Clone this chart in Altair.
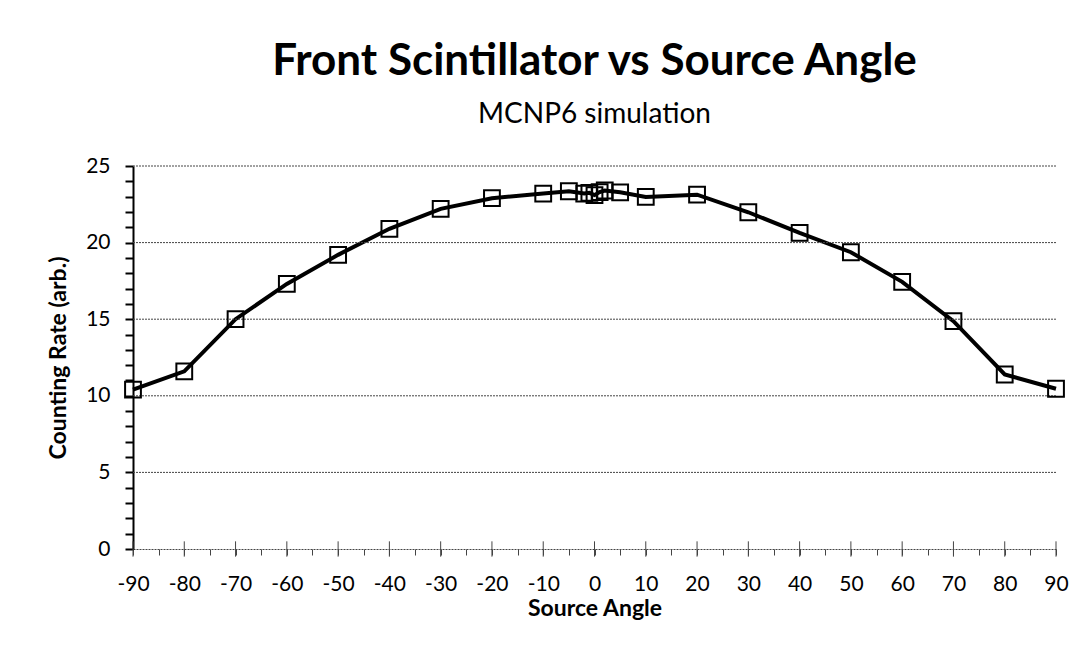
import altair as alt
import pandas as pd

angles = [-90, -80, -70, -60, -50, -40, -30, -20, -10, -5, -2, -1, 0, 1, 2, 5, 10, 20, 30, 40, 50, 60, 70, 80, 90]
rates = [10.4, 11.6, 15.0, 17.3, 19.2, 20.9, 22.2, 22.9, 23.2, 23.35, 23.2, 23.25, 23.1, 23.3, 23.4,
         23.28, 22.98, 23.13, 21.98, 20.63, 19.37, 17.44, 14.87, 11.39, 10.46]
grid_values = [5, 10, 15, 20, 25]
y_ticks = list(range(0, 26))
x_ticks = list(range(-90, 91, 5))
x_major = list(range(-90, 91, 10))

FONT = "Lato"

df = pd.DataFrame({"angle": angles, "rate": rates})
grid_df = pd.DataFrame({"rate": grid_values})
major_df = pd.DataFrame({"angle": x_major, "rate": [-0.5] * len(x_major), "hi": [0.5] * len(x_major)})

xscale = alt.Scale(domain=[-90, 90], nice=False, zero=False)
yscale = alt.Scale(domain=[0, 25], nice=False)

x_axis = alt.Axis(values=x_ticks,
                  labelExpr="datum.value % 10 == 0 ? '' + datum.value : ''",
                  grid=False, domainColor="#444", domainDash=[2, 1], domainWidth=1,
                  tickColor="#444", tickSize=6, tickWidth=1,
                  labelFlush=False, labelOverlap=False, labelBound=False,
                  labelFont=FONT, labelFontSize=21, labelColor="black", labelPadding=18,
                  titleFont=FONT, titleFontSize=23, titleFontWeight="bold", titleColor="black",
                  titlePadding=3)
y_axis = alt.Axis(values=y_ticks,
                  labelExpr="datum.value % 5 == 0 ? '' + datum.value : ''",
                  grid=False, domainColor="black", domainWidth=2,
                  tickColor="black", tickSize=8, tickWidth=2,
                  labelFlush=False, labelOverlap=False, labelBound=False,
                  labelFont=FONT, labelFontSize=21, labelColor="black", labelPadding=15,
                  titleFont=FONT, titleFontSize=23, titleFontWeight="bold", titleColor="black",
                  titlePadding=15)

def X(field):
    return alt.X(field, scale=xscale, axis=x_axis, title="Source Angle")

def Y(field):
    return alt.Y(field, scale=yscale, axis=y_axis, title="Counting Rate (arb.)")

grid = alt.Chart(grid_df).mark_rule(color="#444", strokeDash=[2, 1], strokeWidth=1).encode(
    y=Y("rate:Q")
)

major = alt.Chart(major_df).mark_rule(color="#444", strokeWidth=1).encode(
    x=X("angle:Q"), y=Y("rate:Q"), y2="hi:Q"
)

line = alt.Chart(df).mark_line(color="black", strokeWidth=4).encode(x=X("angle:Q"), y=Y("rate:Q"))
pts = alt.Chart(df).mark_point(shape="square", filled=False, color="black", size=250,
                               strokeWidth=2, opacity=1).encode(x=X("angle:Q"), y=Y("rate:Q"))

chart = alt.layer(line, grid, major, pts).properties(
    width=923, height=383,
    title=alt.TitleParams(
        text="Front Scintillator vs Source Angle",
        subtitle="MCNP6 simulation",
        font=FONT, fontSize=44, fontWeight="bold", color="black",
        subtitleFont=FONT, subtitleFontSize=28, subtitleColor="black", subtitlePadding=17,
        anchor="middle", offset=26,
    ),
    autosize=alt.AutoSizeParams(type="none"),
    padding={"left": 125, "top": 158, "right": 20, "bottom": 100},
).configure_view(stroke=None)

chart.save("out.html", embed_options={"renderer": "svg", "actions": False})
